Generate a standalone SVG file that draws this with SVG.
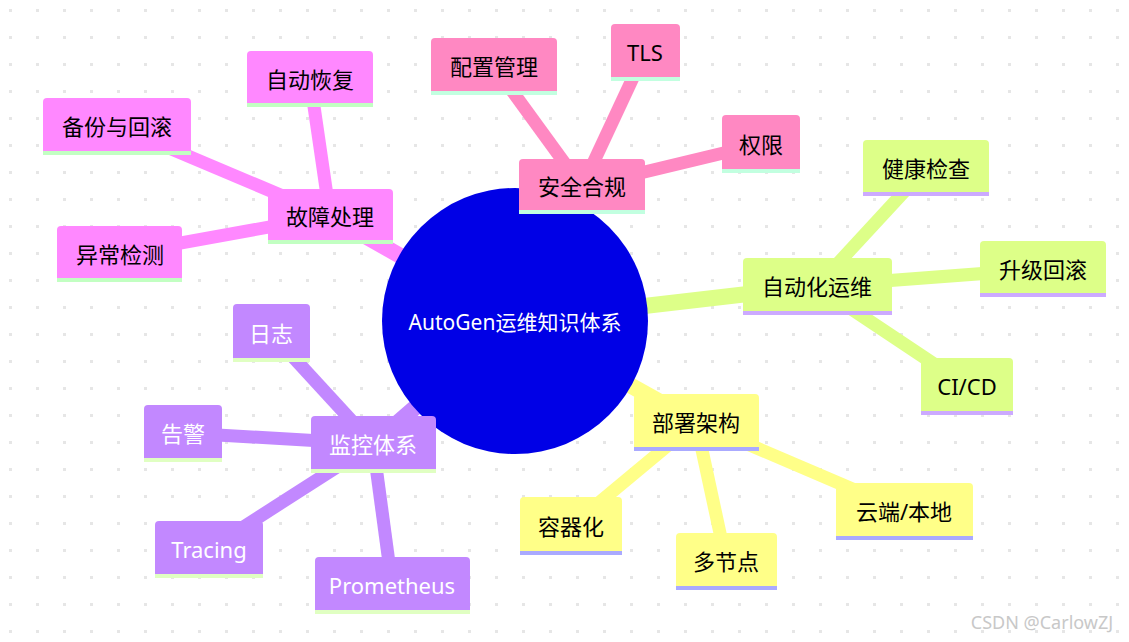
<svg xmlns="http://www.w3.org/2000/svg" width="1129" height="642" viewBox="0 0 1129 642">
<defs>
<pattern id="dots" width="27" height="27" patternUnits="userSpaceOnUse" x="-3" y="-3"><rect x="12" y="12" width="3" height="3" fill="#e6e6e6"/></pattern>
<style>
text{font-family:"Noto Sans","Noto Sans CJK SC",sans-serif;font-size:22px;text-anchor:middle;dominant-baseline:central}
.pk{fill:#ff88c2}.mg{fill:#ff88ff}.lm{fill:#ddff88}.ye{fill:#ffff88}.pu{fill:#c288ff}
.e{fill:none;stroke-linecap:butt}
.w{fill:#fff}
</style>
</defs>
<rect width="1129" height="642" fill="#fff"/>
<rect width="1129" height="642" fill="url(#dots)"/>
<g id="connectors">
<g stroke="#ff88c2" class="e"><line x1="515" y1="321" x2="582" y2="187" stroke-width="16"/><line x1="582" y1="187" x2="494" y2="66" stroke-width="13"/><line x1="582" y1="187" x2="645" y2="52" stroke-width="13"/><line x1="582" y1="187" x2="761" y2="144" stroke-width="13"/></g>
<g stroke="#ff88ff" class="e"><line x1="515" y1="321" x2="330" y2="216" stroke-width="16"/><line x1="330" y1="216" x2="310" y2="79" stroke-width="13"/><line x1="330" y1="216" x2="117" y2="126" stroke-width="13"/><line x1="330" y1="216" x2="120" y2="254" stroke-width="13"/></g>
<g stroke="#ddff88" class="e"><line x1="515" y1="321" x2="817" y2="286" stroke-width="16"/><line x1="817" y1="286" x2="926" y2="168" stroke-width="13"/><line x1="817" y1="286" x2="1043" y2="269" stroke-width="13"/><line x1="817" y1="286" x2="967" y2="386" stroke-width="13"/></g>
<g stroke="#ffff88" class="e"><line x1="515" y1="321" x2="696" y2="422" stroke-width="16"/><line x1="696" y1="422" x2="571" y2="526" stroke-width="13"/><line x1="696" y1="422" x2="726" y2="561" stroke-width="13"/><line x1="696" y1="422" x2="904" y2="511" stroke-width="13"/></g>
<g stroke="#c288ff" class="e"><line x1="515" y1="321" x2="373" y2="444" stroke-width="16"/><line x1="373" y1="444" x2="271" y2="333" stroke-width="13"/><line x1="373" y1="444" x2="183" y2="433" stroke-width="13"/><line x1="373" y1="444" x2="209" y2="549" stroke-width="13"/><line x1="373" y1="444" x2="392" y2="585" stroke-width="13"/></g>
</g>
<g id="root"><circle cx="515" cy="321" r="133" fill="#0000e6"/><text x="515" y="322" class="w" style="font-size:21px">AutoGen运维知识体系</text></g>
<g id="n-security"><path d="M519,214V163a4,4 0 0 1 4-4h118a4,4 0 0 1 4,4v51z" class="pk"/><rect x="519" y="210" width="126" height="4" fill="#c2ffe0"/><text x="582" y="186">安全合规</text></g>
<g id="n-config"><path d="M431,95V42a4,4 0 0 1 4-4h118a4,4 0 0 1 4,4v53z" class="pk"/><rect x="431" y="91" width="126" height="4" fill="#c2ffe0"/><text x="494" y="66">配置管理</text></g>
<g id="n-tls"><path d="M611,81V28a4,4 0 0 1 4-4h61a4,4 0 0 1 4,4v53z" class="pk"/><rect x="611" y="77" width="69" height="4" fill="#c2ffe0"/><text x="645" y="52">TLS</text></g>
<g id="n-perm"><path d="M722,173V119a4,4 0 0 1 4-4h70a4,4 0 0 1 4,4v54z" class="pk"/><rect x="722" y="169" width="78" height="4" fill="#c2ffe0"/><text x="761" y="144">权限</text></g>
<g id="n-fault"><path d="M268,244V193a4,4 0 0 1 4-4h117a4,4 0 0 1 4,4v51z" class="mg"/><rect x="268" y="240" width="125" height="4" fill="#c2ffc2"/><text x="330" y="216">故障处理</text></g>
<g id="n-recover"><path d="M247,107V55a4,4 0 0 1 4-4h118a4,4 0 0 1 4,4v52z" class="mg"/><rect x="247" y="103" width="126" height="4" fill="#c2ffc2"/><text x="310" y="79">自动恢复</text></g>
<g id="n-backup"><path d="M43,155V102a4,4 0 0 1 4-4h140a4,4 0 0 1 4,4v53z" class="mg"/><rect x="43" y="151" width="148" height="4" fill="#c2ffc2"/><text x="117" y="126">备份与回滚</text></g>
<g id="n-anomaly"><path d="M57,282V230a4,4 0 0 1 4-4h117a4,4 0 0 1 4,4v52z" class="mg"/><rect x="57" y="278" width="125" height="4" fill="#c2ffc2"/><text x="120" y="254">异常检测</text></g>
<g id="n-ops"><path d="M743,315V262a4,4 0 0 1 4-4h141a4,4 0 0 1 4,4v53z" class="lm"/><rect x="743" y="311" width="149" height="4" fill="#ccaaff"/><text x="817" y="286">自动化运维</text></g>
<g id="n-health"><path d="M863,196V144a4,4 0 0 1 4-4h118a4,4 0 0 1 4,4v52z" class="lm"/><rect x="863" y="192" width="126" height="4" fill="#ccaaff"/><text x="926" y="168">健康检查</text></g>
<g id="n-upgrade"><path d="M980,297V245a4,4 0 0 1 4-4h118a4,4 0 0 1 4,4v52z" class="lm"/><rect x="980" y="293" width="126" height="4" fill="#ccaaff"/><text x="1043" y="269">升级回滚</text></g>
<g id="n-cicd"><path d="M921,415V362a4,4 0 0 1 4-4h84a4,4 0 0 1 4,4v53z" class="lm"/><rect x="921" y="411" width="92" height="4" fill="#ccaaff"/><text x="967" y="386">CI/CD</text></g>
<g id="n-deploy"><path d="M634,451V398a4,4 0 0 1 4-4h117a4,4 0 0 1 4,4v53z" class="ye"/><rect x="634" y="447" width="125" height="4" fill="#aaaaff"/><text x="696" y="422">部署架构</text></g>
<g id="n-container"><path d="M520,555V501a4,4 0 0 1 4-4h94a4,4 0 0 1 4,4v54z" class="ye"/><rect x="520" y="551" width="102" height="4" fill="#aaaaff"/><text x="571" y="526">容器化</text></g>
<g id="n-multi"><path d="M676,590V537a4,4 0 0 1 4-4h93a4,4 0 0 1 4,4v53z" class="ye"/><rect x="676" y="586" width="101" height="4" fill="#aaaaff"/><text x="726" y="561">多节点</text></g>
<g id="n-cloud"><path d="M836,540V487a4,4 0 0 1 4-4h129a4,4 0 0 1 4,4v53z" class="ye"/><rect x="836" y="536" width="137" height="4" fill="#aaaaff"/><text x="904" y="511">云端/本地</text></g>
<g id="n-monitor"><path d="M311,473V420a4,4 0 0 1 4-4h117a4,4 0 0 1 4,4v53z" class="pu"/><rect x="311" y="469" width="125" height="4" fill="#e0ffc2"/><text x="373" y="444" class="w">监控体系</text></g>
<g id="n-log"><path d="M233,362V308a4,4 0 0 1 4-4h69a4,4 0 0 1 4,4v54z" class="pu"/><rect x="233" y="358" width="77" height="4" fill="#e0ffc2"/><text x="271" y="333" class="w">日志</text></g>
<g id="n-alert"><path d="M144,462V409a4,4 0 0 1 4-4h70a4,4 0 0 1 4,4v53z" class="pu"/><rect x="144" y="458" width="78" height="4" fill="#e0ffc2"/><text x="183" y="433" class="w">告警</text></g>
<g id="n-tracing"><path d="M155,578V525a4,4 0 0 1 4-4h100a4,4 0 0 1 4,4v53z" class="pu"/><rect x="155" y="574" width="108" height="4" fill="#e0ffc2"/><text x="209" y="549" class="w">Tracing</text></g>
<g id="n-prom"><path d="M315,614V561a4,4 0 0 1 4-4h147a4,4 0 0 1 4,4v53z" class="pu"/><rect x="315" y="610" width="155" height="4" fill="#e0ffc2"/><text x="392" y="585" class="w">Prometheus</text></g>
<text x="1042" y="622" style="font-size:18px;fill:#c8c8c8">CSDN @CarlowZJ</text>
</svg>
